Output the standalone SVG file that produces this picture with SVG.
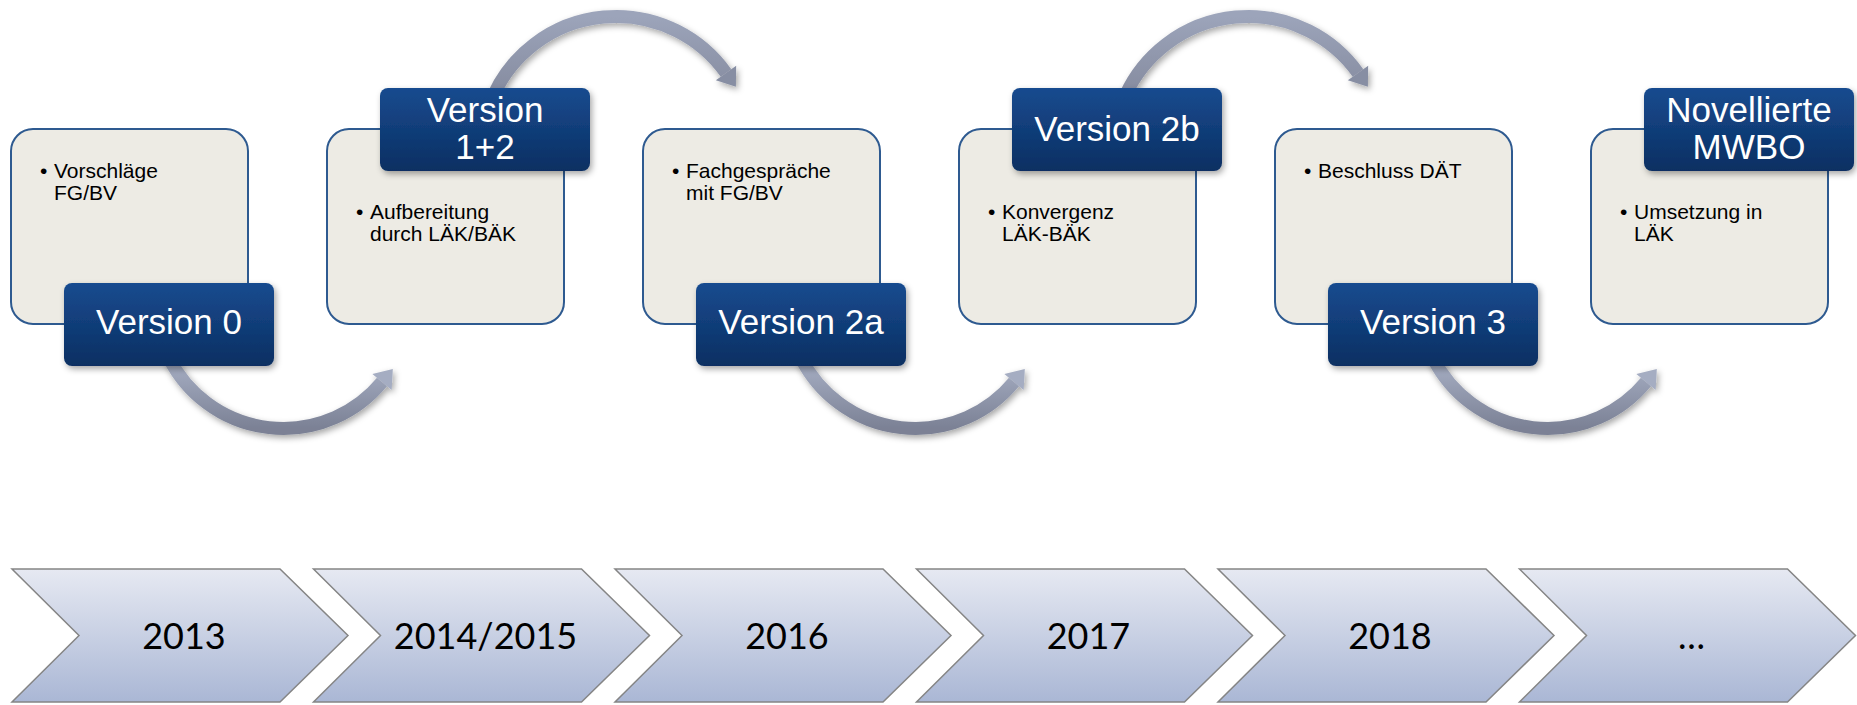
<svg xmlns="http://www.w3.org/2000/svg" width="1857" height="705" viewBox="0 0 1857 705">
<defs>
  <linearGradient id="lblGrad" x1="0" y1="0" x2="0" y2="1">
    <stop offset="0" stop-color="#174b8f"/>
    <stop offset="1" stop-color="#0b2f62"/>
  </linearGradient>
  <linearGradient id="chevGrad" x1="0" y1="0" x2="0" y2="1">
    <stop offset="0" stop-color="#e6e9f2"/>
    <stop offset="1" stop-color="#aab7d5"/>
  </linearGradient>
  <linearGradient id="arcBotGrad" x1="0" y1="0" x2="0" y2="1">
    <stop offset="0" stop-color="#a9b1c6"/>
    <stop offset="1" stop-color="#7b8195"/>
  </linearGradient>
  <linearGradient id="arcTopGrad" x1="0" y1="0" x2="0" y2="1">
    <stop offset="0" stop-color="#9ca4ba"/>
    <stop offset="1" stop-color="#858b9f"/>
  </linearGradient>
  <filter id="shadow" x="-20%" y="-20%" width="150%" height="160%">
    <feDropShadow dx="2" dy="3" stdDeviation="3" flood-color="#000" flood-opacity="0.35"/>
  </filter>
  <marker id="headBot" markerUnits="userSpaceOnUse" viewBox="-1 -13 20 26" refX="0" refY="0" markerWidth="20" markerHeight="26" orient="auto">
    <path d="M 0 -12.5 L 17 0 L 0 12.5 Z" fill="#a5adc2"/>
  </marker>
  <marker id="headTop" markerUnits="userSpaceOnUse" viewBox="-1 -13 20 26" refX="0" refY="0" markerWidth="20" markerHeight="26" orient="auto">
    <path d="M 0 -12.5 L 17 0 L 0 12.5 Z" fill="#878ea3"/>
  </marker>
  <style>
    .box { fill: #edebe4; stroke: #2e5a90; stroke-width: 2; }
    .lbl { fill: url(#lblGrad); filter: url(#shadow); }
    .lbltxt { font-family: "Liberation Sans", Arial, sans-serif; font-size: 35px; fill: #ffffff; text-anchor: middle; }
    .bodytxt { font-family: "Liberation Sans", Arial, sans-serif; font-size: 21px; fill: #000000; }
    .bullet { font-family: "Liberation Sans", Arial, sans-serif; font-size: 21px; fill: #000000; }
    .arcB { fill: none; stroke: url(#arcBotGrad); stroke-width: 13; marker-end: url(#headBot); filter: url(#shadow); }
    .arcT { fill: none; stroke: url(#arcTopGrad); stroke-width: 13; marker-end: url(#headTop); filter: url(#shadow); }
    .chev { fill: url(#chevGrad); stroke: #858585; stroke-width: 1.5; }
    .chevtxt { font-family: Lato, "Open Sans", sans-serif; font-size: 36px; fill: #000000; text-anchor: middle; }
  </style>
</defs>
<rect x="0" y="0" width="1857" height="705" fill="#ffffff"/>

<g id="connectors">
  <path class="arcB" d="M 169 358 A 128 128 0 0 0 382 382"/>
  <path class="arcT" d="M 493.6 94.9 A 135 135 0 0 1 726 73"/>
  <path class="arcB" d="M 801 358 A 128 128 0 0 0 1014 382"/>
  <path class="arcT" d="M 1125.6 94.9 A 135 135 0 0 1 1358 73"/>
  <path class="arcB" d="M 1433 358 A 128 128 0 0 0 1646 382"/>
</g>

<g id="node-v0">
  <rect class="box" x="11" y="129" width="237" height="195" rx="22"/>
  <text class="bullet" x="40" y="178">•</text>
  <text class="bodytxt" x="54" y="178">Vorschläge</text>
  <text class="bodytxt" x="54" y="200">FG/BV</text>
  <rect class="lbl" x="64" y="283" width="210" height="83" rx="8"/>
  <text class="lbltxt" x="169" y="334">Version 0</text>
</g>

<g id="node-v12">
  <rect class="box" x="327" y="129" width="237" height="195" rx="22"/>
  <text class="bullet" x="356" y="219">•</text>
  <text class="bodytxt" x="370" y="219">Aufbereitung</text>
  <text class="bodytxt" x="370" y="241">durch LÄK/BÄK</text>
  <rect class="lbl" x="380" y="88" width="210" height="83" rx="8"/>
  <text class="lbltxt" x="485" y="122">Version</text>
  <text class="lbltxt" x="485" y="159">1+2</text>
</g>

<g id="node-v2a">
  <rect class="box" x="643" y="129" width="237" height="195" rx="22"/>
  <text class="bullet" x="672" y="178">•</text>
  <text class="bodytxt" x="686" y="178">Fachgespräche</text>
  <text class="bodytxt" x="686" y="200">mit FG/BV</text>
  <rect class="lbl" x="696" y="283" width="210" height="83" rx="8"/>
  <text class="lbltxt" x="801" y="334">Version 2a</text>
</g>

<g id="node-v2b">
  <rect class="box" x="959" y="129" width="237" height="195" rx="22"/>
  <text class="bullet" x="988" y="219">•</text>
  <text class="bodytxt" x="1002" y="219">Konvergenz</text>
  <text class="bodytxt" x="1002" y="241">LÄK-BÄK</text>
  <rect class="lbl" x="1012" y="88" width="210" height="83" rx="8"/>
  <text class="lbltxt" x="1117" y="141">Version 2b</text>
</g>

<g id="node-v3">
  <rect class="box" x="1275" y="129" width="237" height="195" rx="22"/>
  <text class="bullet" x="1304" y="178">•</text>
  <text class="bodytxt" x="1318" y="178">Beschluss DÄT</text>
  <rect class="lbl" x="1328" y="283" width="210" height="83" rx="8"/>
  <text class="lbltxt" x="1433" y="334">Version 3</text>
</g>

<g id="node-mwbo">
  <rect class="box" x="1591" y="129" width="237" height="195" rx="22"/>
  <text class="bullet" x="1620" y="219">•</text>
  <text class="bodytxt" x="1634" y="219">Umsetzung in</text>
  <text class="bodytxt" x="1634" y="241">LÄK</text>
  <rect class="lbl" x="1644" y="88" width="210" height="83" rx="8"/>
  <text class="lbltxt" x="1749" y="122">Novellierte</text>
  <text class="lbltxt" x="1749" y="159">MWBO</text>
</g>

<g id="timeline">
  <g id="y2013">
    <path class="chev" d="M 12 569 H 280 L 348 635.5 L 280 702 H 12 L 79 635.5 Z"/>
    <text class="chevtxt" x="184" y="649">2013</text>
  </g>
  <g id="y2014">
    <path class="chev" d="M 313.5 569 H 581.5 L 649.5 635.5 L 581.5 702 H 313.5 L 380.5 635.5 Z"/>
    <text class="chevtxt" x="485.5" y="649">2014/2015</text>
  </g>
  <g id="y2016">
    <path class="chev" d="M 615 569 H 883 L 951 635.5 L 883 702 H 615 L 682 635.5 Z"/>
    <text class="chevtxt" x="787" y="649">2016</text>
  </g>
  <g id="y2017">
    <path class="chev" d="M 916.5 569 H 1184.5 L 1252.5 635.5 L 1184.5 702 H 916.5 L 983.5 635.5 Z"/>
    <text class="chevtxt" x="1088.5" y="649">2017</text>
  </g>
  <g id="y2018">
    <path class="chev" d="M 1218 569 H 1486 L 1554 635.5 L 1486 702 H 1218 L 1285 635.5 Z"/>
    <text class="chevtxt" x="1390" y="649">2018</text>
  </g>
  <g id="ydots">
    <path class="chev" d="M 1519.5 569 H 1787.5 L 1855.5 635.5 L 1787.5 702 H 1519.5 L 1586.5 635.5 Z"/>
    <text class="chevtxt" x="1691.5" y="649">…</text>
  </g>
</g>
</svg>
